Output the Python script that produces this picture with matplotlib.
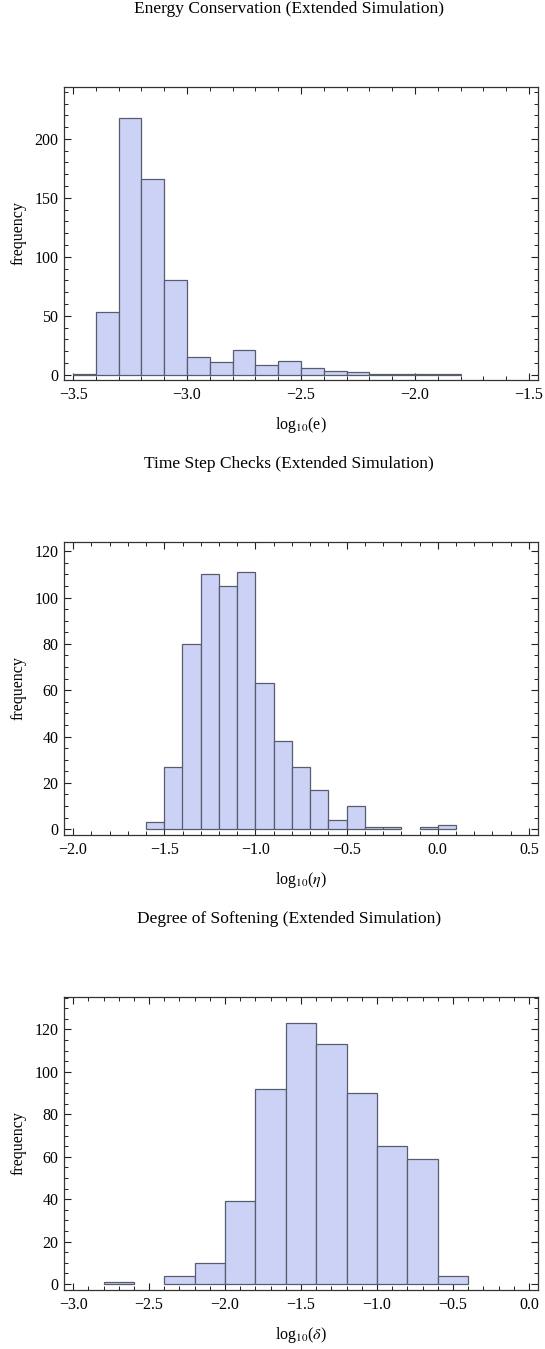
import numpy as np
import matplotlib
matplotlib.use("Agg")
import matplotlib.pyplot as plt
from matplotlib.ticker import MultipleLocator, FuncFormatter

plt.rcParams['font.family'] = ['Liberation Serif', 'DejaVu Serif']
plt.rcParams['mathtext.fontset'] = 'stix'
plt.rcParams['axes.unicode_minus'] = True

# ---------------------------------------------------------------- data
titles = ["Energy Conservation (Extended Simulation)",
          "Time Step Checks (Extended Simulation)",
          "Degree of Softening (Extended Simulation)"]
xlabels = [r"log$_{10}$(e)", r"log$_{10}$($\eta$)", r"log$_{10}$($\delta$)"]

# energy error histogram, bins of 0.1 starting at -3.5
energy_start, energy_width = -3.5, 0.1
energy_counts = [1, 53, 218, 166, 80, 15, 11, 21, 8, 12, 6, 3, 2, 1, 1, 1, 1]

# time step histogram, bins of 0.1 starting at -1.6
eta_start, eta_width = -1.6, 0.1
eta_counts = [3, 27, 80, 110, 105, 111, 63, 38, 27, 17, 4, 10, 1, 1, 0, 1, 2]

# softening histogram, bins of 0.2 starting at -2.8
delta_start, delta_width = -2.8, 0.2
delta_counts = [1, 0, 4, 10, 39, 92, 123, 113, 90, 65, 59, 4]

xlims = [(-3.54, -1.46), (-2.05, 0.55), (-3.06, 0.06)]
ylims = [(-4.5, 244), (-2.5, 124), (-2.8, 135.3)]
xmajor = [0.5, 0.5, 0.5]
xminor = [0.1, 0.1, 0.1]
ymajor = [50, 20, 20]
yminor = [10, 5, 5]

hists = [(energy_start, energy_width, energy_counts),
         (eta_start, eta_width, eta_counts),
         (delta_start, delta_width, delta_counts)]


def fmt_x(v, pos):
    return ('%.1f' % v).replace('-', '\u2212')


# ---------------------------------------------------------------- layout
W, H = 545, 1349
fig = plt.figure(figsize=(W / 100, H / 100), dpi=100)

face = '#cbd2f6'
edge = '#575d6e'
step = 455

for i in range(3):
    top = 87 + step * i
    bottom = 380 + step * i
    ax = fig.add_axes([64 / W, 1 - bottom / H, 474 / W, (bottom - top) / H])

    start, width, counts = hists[i]
    counts = np.array(counts)
    lefts = start + width * np.arange(len(counts))
    keep = counts > 0
    ax.bar(lefts[keep], counts[keep], width=width, align='edge',
           color=face, edgecolor=edge, linewidth=0.9, zorder=2)

    ax.set_xlim(*xlims[i])
    ax.set_ylim(*ylims[i])
    ax.xaxis.set_major_locator(MultipleLocator(xmajor[i]))
    ax.xaxis.set_minor_locator(MultipleLocator(xminor[i]))
    ax.yaxis.set_major_locator(MultipleLocator(ymajor[i]))
    ax.yaxis.set_minor_locator(MultipleLocator(yminor[i]))
    ax.xaxis.set_major_formatter(FuncFormatter(fmt_x))
    ax.tick_params(which='both', direction='in', top=True, right=True,
                   labelsize=11.5, color='#222222')
    ax.tick_params(axis='x', pad=5)
    ax.tick_params(axis='y', pad=4)
    ax.tick_params(which='major', length=5, width=0.8)
    ax.tick_params(which='minor', length=3, width=0.7)
    for s in ax.spines.values():
        s.set_linewidth(0.9)
        s.set_color('#333333')

    ax.set_ylabel('frequency', fontsize=11.5, labelpad=6)
    ax.set_xlabel(xlabels[i], fontsize=11.5, labelpad=9)

    fig.text(289 / W, 1 - (9 + step * i) / H, titles[i], fontsize=12.5,
             ha='center', va='center')

fig.savefig('out.png', dpi=100)
